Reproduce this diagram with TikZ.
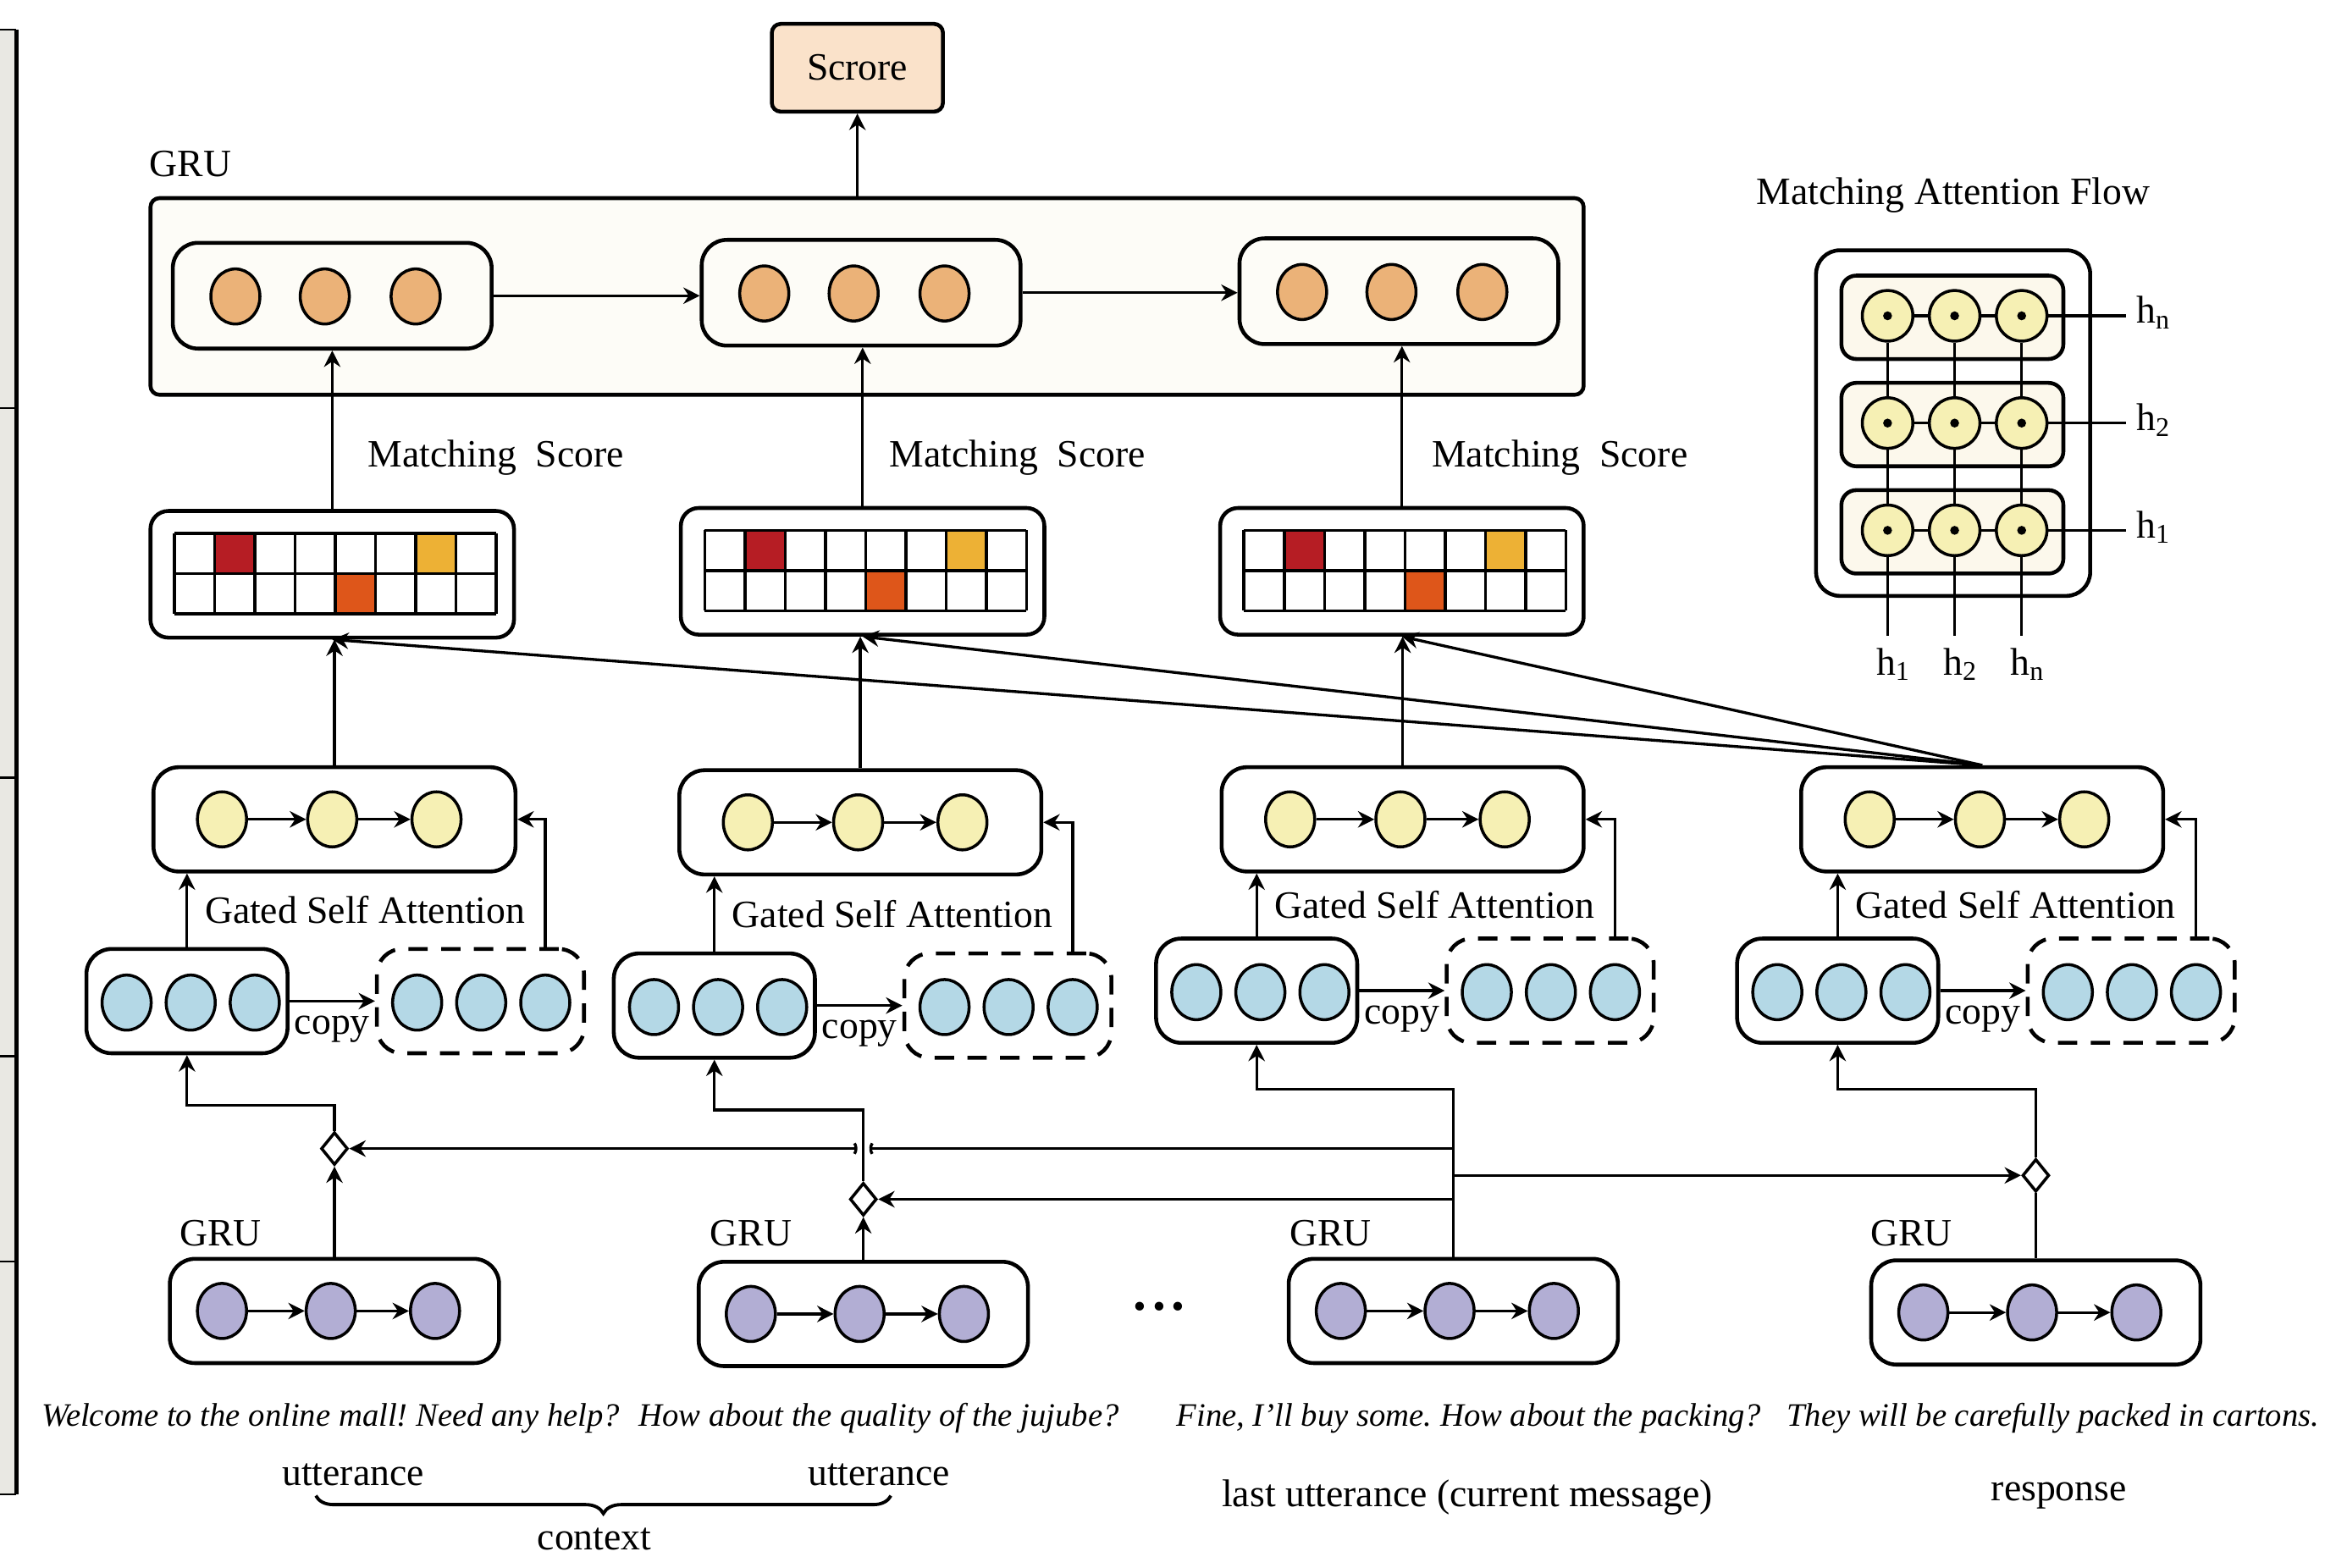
\documentclass[tikz,border=0pt]{standalone}
\usepackage{fontspec}
\setmainfont{Liberation Serif}
\usepackage{tikz}
\usetikzlibrary{arrows.meta,calc,positioning,fit,shapes.geometric,decorations.pathreplacing}
\definecolor{orc}{RGB}{235,178,120}
\definecolor{scf}{RGB}{250,226,202}
\definecolor{cream}{RGB}{253,252,247}
\definecolor{yelc}{RGB}{246,240,180}
\definecolor{bluc}{RGB}{180,216,230}
\definecolor{purc}{RGB}{178,174,212}
\definecolor{redc}{RGB}{182,29,36}
\definecolor{ambc}{RGB}{237,177,53}
\definecolor{orgc}{RGB}{222,86,26}
\definecolor{rowc}{RGB}{252,248,236}
\definecolor{stripc}{RGB}{233,232,227}
\frenchspacing
\tikzset{
  unit/.style={draw,line width=1.3pt,rounded corners=8.5pt,inner sep=0pt},
  ell/.style={ellipse,draw,line width=1pt,inner sep=0pt,minimum width=16.5pt,minimum height=18.5pt},
  con/.style={line width=0.95pt},
  arr/.style={con,-{Stealth[length=5.5pt,width=5.5pt]}},
  gate/.style={diamond,draw,fill=white,line width=1pt,inner sep=0pt,minimum width=9pt,minimum height=11pt},
  txt/.style={font=\fontsize{13}{15.6}\selectfont},
  utt/.style={font=\fontsize{11}{13}\selectfont\itshape,inner sep=0pt},
}
\begin{document}
\begin{tikzpicture}[x=0.017596cm,y=-0.017596cm]
  \useasboundingbox (0,0) rectangle (1568,1052);
  % strip at the left edge
  \fill[stripc] (0,20) rectangle (11,1003);
  \foreach \sy in {20,274,522,709,847,1003} \draw[line width=0.6pt] (0,\sy) -- (11,\sy);
  \draw[line width=1.6pt] (11,20) -- (11,1003);
  % score and utterance-level GRU
  \node[unit,rounded corners=3pt,fill=scf,minimum width=57.5pt,minimum height=29.5pt,txt] (score) at (575.5,45.5) {Scrore};
  \node[unit,rounded corners=3pt,fill=cream,fit={(101,133) (1063,265)}] (gru) {};
  \node[txt] at (128,110) {GRU};
  \draw[arr] (score.south |- gru.north) -- (score.south);
  \foreach \i/\gx/\gy in {1/116/163, 2/471/161, 3/832/160} {
    \node[unit,fill=cream,fit={(\gx,\gy) (\gx+214,\gy+71)}] (g\i) {};
    \foreach \c/\dx in {1/42, 2/102, 3/163}
      \node[ell,fill=orc] (g\i-\c) at (\gx+\dx,\gy+36) {};
  }
  \draw[arr] (g1.east) -- (g1.east -| g2.west);
  \draw[arr] (g2.east) -- (g2.east -| g3.west);
  % matching score matrices
  \foreach \i/\mx/\my/\lx in {1/101/343/333, 2/457/341/683, 3/819/341/1047} {
    \node[unit,rounded corners=6pt,fit={(\mx,\my) (\mx+244,\my+85)}] (m\i) {};
    \fill[redc] (\mx+43,\my+15) rectangle ++(27,27);
    \fill[ambc] (\mx+178,\my+15) rectangle ++(27,27);
    \fill[orgc] (\mx+124,\my+42) rectangle ++(27,27);
    \foreach \k in {0,...,8} \draw[line width=1pt] (\mx+16+27*\k,\my+15) -- ++(0,54);
    \foreach \r in {0,1,2} \draw[line width=1pt] (\mx+16,\my+15+27*\r) -- ++(216,0);
    \node[txt] at (\lx,307) {Matching\ \ Score};
    \draw[arr] (m\i.north) -- (m\i.north |- g\i.south);
  }
  % gated self attention
  \foreach \i/\yx/\yy/\bx/\by in {1/103/515/58/637, 2/456/517/412/640, 3/820/515/776/630, 4/1209/515/1166/630} {
    \node[unit,fit={(\yx,\yy) (\yx+243,\yy+70)}] (y\i) {};
    \foreach \c/\dx in {1/46, 2/120, 3/190}
      \node[ell,fill=yelc] (y\i-\c) at (\yx+\dx,\yy+35) {};
    \draw[arr] (y\i-1) -- (y\i-2);
    \draw[arr] (y\i-2) -- (y\i-3);
    \node[unit,fit={(\bx,\by) (\bx+135,\by+70)}] (b\i) {};
    \node[unit,dash pattern=on 6.5pt off 4.5pt,fit={(\bx+195,\by) (\bx+334,\by+70)}] (d\i) {};
    \foreach \c/\dx in {1/27, 2/70, 3/113} {
      \node[ell,fill=bluc] (b\i-\c) at (\bx+\dx,\by+36) {};
      \node[ell,fill=bluc] (d\i-\c) at (\bx+195+\dx,\by+36) {};
    }
    \draw[arr] (b\i.east) -- node[txt,below=3.5pt,inner sep=1pt] {copy} (b\i.east -| d\i.west);
    \draw[arr] (b\i.north) -- (b\i.north |- y\i.south);
    \draw[arr] (d\i-3 |- d\i.north) |- (y\i.east);
    \node[txt] at (\bx+187,\yy/2+35+\by/2) {Gated Self Attention};
  }
  \foreach \i in {1,2,3} {
    \draw[arr] (y\i.north) -- (y\i.north |- m\i.south);
    \draw[arr] (y4.north) -- (m\i.south);
  }
  % word-level GRU
  \foreach \i/\px/\py/\gx in {1/114/845/148, 2/469/847/504, 3/865/845/893, 4/1256/846/1283} {
    \node[unit,fit={(\px,\py) (\px+221,\py+70)}] (p\i) {};
    \foreach \c/\dx in {1/35, 2/108, 3/178}
      \node[ell,fill=purc] (p\i-\c) at (\px+\dx,\py+35) {};
    \draw[arr] (p\i-1) -- (p\i-2);
    \draw[arr] (p\i-2) -- (p\i-3);
    \node[txt] at (\gx,828) {GRU};
  }
  \node[font={\fontsize{18}{18}\selectfont\bfseries}] at (778,877) {.\kern2pt.\kern2pt.};
  % gates and links
  \node[gate] (q1) at (p1.north |- 0,771) {};
  \node[gate] (q2) at (p2.north |- 0,805) {};
  \node[gate] (q4) at (p4.north |- 0,789) {};
  \draw[arr] (p1.north) -- (q1.south);
  \draw[arr] (q1.north) -- (q1.north |- 0,742) -| (b1.south);
  \draw[arr] (p2.north) -- (q2.south);
  \draw[arr] (q2.north) -- (q2.north |- 0,745) -| (b2.south);
  \draw[arr] (p3.north) -- (p3.north |- 0,731) -| (b3.south);
  \draw[con] (p4.north) -- (q4.south);
  \draw[arr] (q4.north) -- (q4.north |- 0,731) -| (b4.south);
  \draw[arr] (p3.north |- q4) -- (q4.west);
  \draw[arr] (p3.north |- q2) -- (q2.east);
  \draw[con,{Stealth[length=5.5pt,width=5.5pt]}-{Parenthesis[length=1.5pt,width=5pt]}] (q1.east) -- ($(q2 |- q1)+(-4,0)$);
  \draw[con,{Parenthesis[length=1.5pt,width=5pt]}-] ($(q2 |- q1)+(4,0)$) -- (p3.north |- q1);
  % dialogue
  \node[utt] (s1) at (222,952) {Welcome to the online mall! Need any help?};
  \node[utt] (s2) at (590,952) {How about the quality of the jujube?};
  \node[utt] (s3) at (986,952) {Fine, I'll buy some. How about the packing?};
  \node[utt] (s4) at (1378,952) {They will be carefully packed in cartons.};
  \node[txt] (u1) at (237,990) {utterance};
  \node[txt] (u2) at (590,990) {utterance};
  \draw[con,line width=1.1pt,decorate,decoration={brace,mirror,amplitude=6pt}] (212,1004) -- (598,1004);
  \node[txt] (context) at (399,1033) {context};
  \node[txt] (last) at (985,1005) {last utterance (current message)};
  \node[txt] (resp) at (1382,1004) {response};
  % matching attention flow
  \node[txt] at (1311,131) {Matching Attention Flow};
  \node[unit,rounded corners=8pt,fit={(1219,168) (1403,400)}] (maf) {};
  \foreach \r/\ry/\hl in {3/185/n, 2/257/2, 1/329/1} {
    \node[unit,rounded corners=5pt,fill=rowc,fit={(1236,\ry) (1385,\ry+56)}] (row\r) {};
    \foreach \c/\cx in {1/1267, 2/1312, 3/1357} {
      \node[circle,draw,line width=1pt,fill=yelc,minimum size=17pt,inner sep=0pt] (a\r-\c) at (\cx,\ry+27) {};
      \fill (a\r-\c) circle (1.5pt);
    }
    \draw[con] (a\r-1) -- (a\r-2);
    \draw[con] (a\r-2) -- (a\r-3);
    \node[txt,anchor=base west] (h\r) at (1427,\ry+32) {h\textsubscript{\hl}};
    \draw[con] (a\r-3) -- (a\r-3 -| h\r.west);
  }
  \foreach \c/\cx/\hl in {1/1267/1, 2/1312/2, 3/1357/n} {
    \coordinate (v\c) at (\cx,427);
    \draw[con] (a3-\c) -- (a2-\c);
    \draw[con] (a2-\c) -- (a1-\c);
    \draw[con] (a1-\c) -- (v\c);
    \node[txt,anchor=base] (k\c) at ($(v\c)+(4,26)$) {h\textsubscript{\hl}};
  }
\end{tikzpicture}
\end{document}
